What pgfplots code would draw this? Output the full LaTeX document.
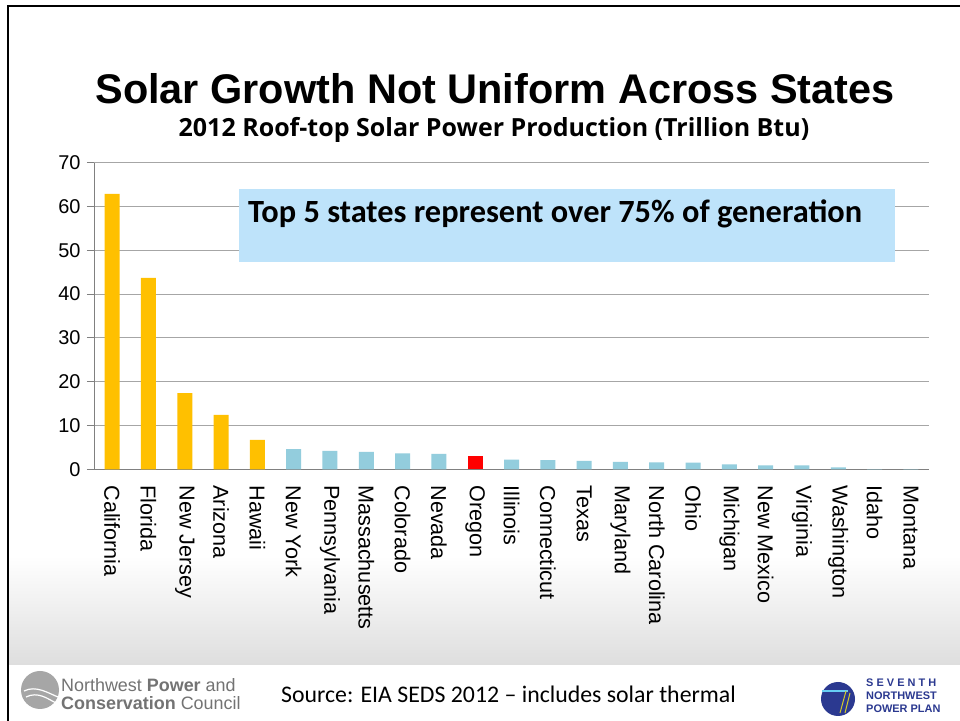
\documentclass[border=0pt]{standalone}
\usepackage{pgfplots}
\pgfplotsset{compat=1.18}
\usepackage{fontspec}
\setmainfont{Liberation Sans}
\newfontfamily\carlito{Carlito}
\newfontfamily\opensans{Open Sans}
\definecolor{orangeC}{HTML}{FFC000}
\definecolor{blueC}{HTML}{93CDDD}
\definecolor{boxC}{HTML}{BEE3FA}
\definecolor{navy}{HTML}{2B3990}
\begin{document}
\begin{tikzpicture}[x=1bp,y=1bp]
\path[use as bounding box] (0,0) rectangle (960,721);
\fill[white] (0,0) rectangle (960,721);
\shade[top color=white, bottom color=black!13] (9,56) rectangle (960,165);
\draw[line width=2bp] (8,0) -- (8,715) -- (960,715);
% title
\node[anchor=base, font=\fontsize{41.6}{45}\selectfont\bfseries, inner sep=0] at (495,617) {Solar Growth Not Uniform Across States};
\node[anchor=base, font=\opensans\fontsize{25.1}{27}\selectfont\bfseries, inner sep=0] at (494,584) {2012 Roof-top Solar Power Production (Trillion Btu)};
\begin{axis}[
  at={(94bp,251.7bp)}, anchor=south west,
  scale only axis, width=835bp, height=306.6bp,
  xmin=-0.5, xmax=22.5, ymin=0, ymax=70,
  ytick={0,10,...,70},
  xtick={0,...,22},
  xticklabels={California,Florida,New Jersey,Arizona,Hawaii,New York,Pennsylvania,Massachusetts,Colorado,Nevada,Oregon,Illinois,Connecticut,Texas,Maryland,North Carolina,Ohio,Michigan,New Mexico,Virginia,Washington,Idaho,Montana},
  xticklabel style={rotate=-90, anchor=west, font=\fontsize{21.7}{23}\selectfont, inner sep=0pt, xshift=9bp},
  yticklabel style={font=\fontsize{20}{22}\selectfont, xshift=-3bp},
  /pgf/number format/assume math mode=true,
  axis lines*=left,
  axis line style={draw=black!50, line width=1pt},
  ymajorgrids, grid style={draw=black!35, line width=1pt},
  tick align=outside, major tick length=7bp,
  ytick style={draw=black!50, line width=1pt},
  xtick style={draw=none},
  ybar, bar width=15bp,
]
\addplot[fill=orangeC, draw=none, bar shift=0pt] coordinates {(0,62.9)(1,43.7)(2,17.4)(3,12.4)(4,6.7)};
\addplot[fill=blueC, draw=none, bar shift=0pt] coordinates {(5,4.6)(6,4.2)(7,4.0)(8,3.65)(9,3.5)(11,2.2)(12,2.1)(13,1.9)(14,1.7)(15,1.6)(16,1.5)(17,1.15)(18,0.9)(19,0.9)(20,0.45)(21,0.05)(22,0.02)};
\addplot[fill=red, draw=none, bar shift=0pt] coordinates {(10,3.0)};
\end{axis}
% text box
\fill[boxC] (239,459) rectangle (895,532);
\node[anchor=base west, font=\carlito\fontsize{32.5}{35}\selectfont\bfseries, inner sep=0] at (248,498) {Top 5 states represent over 75\% of generation};
% footer
\node[anchor=base west, font=\carlito\fontsize{23.9}{26}\selectfont, inner sep=0] at (281,18) {Source: EIA SEDS 2012 – includes solar thermal};
% left logo
\fill[black!35] (40,31) circle (19);
\draw[white, line width=1.2bp] (24,30) .. controls (36,36) and (48,28) .. (58,24);
\draw[white, line width=1.2bp] (26,24) .. controls (38,30) and (48,22) .. (56,18);
\node[anchor=base west, font=\fontsize{18}{19}\selectfont, text=black!55, inner sep=0] at (61,29) {Northwest \textbf{Power} and};
\node[anchor=base west, font=\fontsize{18}{19}\selectfont, text=black!55, inner sep=0] at (61,11) {\textbf{Conservation} Council};
% right logo
\fill[navy] (838,22) circle (17);
\draw[cyan!60, line width=1.2bp] (822,30) -- (848,30);
\draw[yellow!80!black, line width=1bp] (846,30) -- (840,8);
\draw[yellow!80!black, line width=1bp] (850,28) -- (845,8);
\node[anchor=base west, font=\fontsize{11}{12}\selectfont\bfseries, text=navy, inner sep=0] at (866,34) {S E V E N T H};
\node[anchor=base west, font=\fontsize{11}{12}\selectfont\bfseries, text=navy, inner sep=0] at (866,21) {NORTHWEST};
\node[anchor=base west, font=\fontsize{11}{12}\selectfont\bfseries, text=navy, inner sep=0] at (866,8) {POWER PLAN};
\end{tikzpicture}
\end{document}
